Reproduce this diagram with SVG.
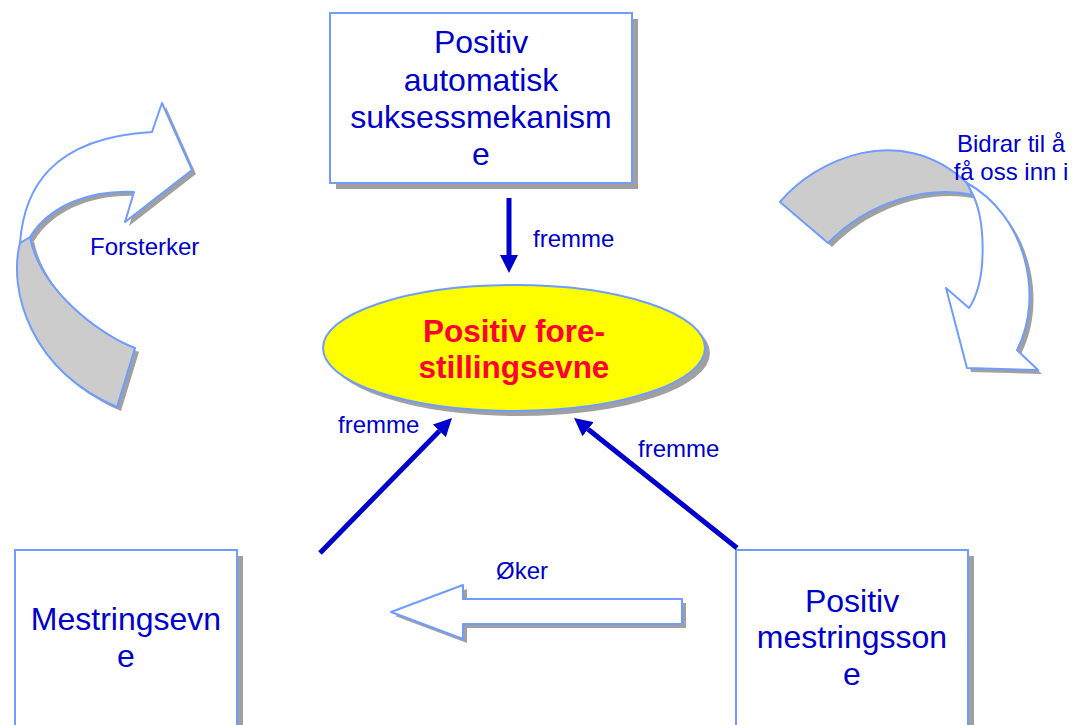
<svg xmlns="http://www.w3.org/2000/svg" width="1075" height="725" viewBox="0 0 1075 725">
<style>
.t{font-family:"Liberation Sans",Arial,sans-serif;fill:#0000CC;}
.box{fill:#FFFFFF;stroke:#6F9CFF;stroke-width:2;}
.sh{fill:#A0A0A0;stroke:none;}
.rib{fill:#CCCCCC;stroke:#6F9CFF;stroke-width:2;stroke-linejoin:round;}
.wrib{fill:#FFFFFF;stroke:#6F9CFF;stroke-width:2;stroke-linejoin:round;}
.con{stroke:#0000CC;stroke-width:5;fill:none;marker-end:url(#ah);}
</style>
<defs>
<marker id="ah" markerUnits="userSpaceOnUse" viewBox="0 0 18 18" refX="0" refY="9" markerWidth="18" markerHeight="18" orient="auto">
<path d="M0,0 L18,9 L0,18 Z" fill="#0000CC"/>
</marker>
</defs>
<rect width="1075" height="725" fill="#FFFFFF"/>

<g id="curve-left">
<g transform="translate(4,4)" class="sh">
<path d="M20,243 C8,290 30,370 117,407 L135,348 C100,335 40,290 30,237 Z"/>
<path d="M20,243 C24,190 50,138 152,132 L162,103 L192,170 L125,222 L134,192 C90,190 50,205 30,237 Z"/>
</g>
<path class="rib" d="M20,243 C8,290 30,370 117,407 L135,348 C100,335 40,290 30,237 Z"/>
<path class="wrib" d="M20,243 C24,190 50,138 152,132 L162,103 L192,170 L125,222 L134,192 C90,190 50,205 30,237 Z"/>
<text class="t" x="90" y="255" font-size="24">Forsterker</text>
</g>

<g id="curve-right">
<g transform="translate(4,4)" class="sh">
<path d="M780,202 C815,160 900,120 967,183 L973,195 C930,185 870,200 828,243 Z"/>
<path d="M967,183 C1025,215 1045,295 1017,350 L1038,370 L967,368 L946,288 L969,308 C988,280 985,220 973,195 Z"/>
</g>
<path class="rib" d="M780,202 C815,160 900,120 967,183 L973,195 C930,185 870,200 828,243 Z"/>
<path class="wrib" d="M967,183 C1025,215 1045,295 1017,350 L1038,370 L967,368 L946,288 L969,308 C988,280 985,220 973,195 Z"/>
<text class="t" font-size="24" text-anchor="middle"><tspan x="1011" y="152">Bidrar til å</tspan><tspan x="1011" y="180">få oss inn i</tspan></text>
</g>

<g id="node-top">
<rect class="sh" x="336" y="19" width="302" height="170"/>
<rect class="box" x="330" y="13" width="302" height="170"/>
<text class="t" font-size="32" text-anchor="middle"><tspan x="481" y="53">Positiv</tspan><tspan x="481" y="91">automatisk</tspan><tspan x="481" y="128">suksessmekanism</tspan><tspan x="481" y="165">e</tspan></text>
</g>

<g id="node-center">
<ellipse cx="519" cy="353" rx="191" ry="63" fill="#A0A0A0"/>
<ellipse cx="514" cy="348" rx="191" ry="63" fill="#FFFF00" stroke="#6F9CFF" stroke-width="2"/>
<text font-family="Liberation Sans,Arial,sans-serif" font-weight="bold" font-size="31.5" fill="#FF0033" text-anchor="middle"><tspan x="514" y="342">Positiv fore-</tspan><tspan x="514" y="378">stillingsevne</tspan></text>
</g>

<g id="node-bottom-left">
<rect class="sh" x="21" y="556" width="222" height="190"/>
<rect class="box" x="15" y="550" width="222" height="190"/>
<text class="t" font-size="32" text-anchor="middle"><tspan x="126" y="630">Mestringsevn</tspan><tspan x="126" y="667">e</tspan></text>
</g>

<g id="node-bottom-right">
<rect class="sh" x="742" y="556" width="232" height="190"/>
<rect class="box" x="736" y="550" width="232" height="190"/>
<text class="t" font-size="32" text-anchor="middle"><tspan x="852" y="612">Positiv</tspan><tspan x="852" y="648">mestringsson</tspan><tspan x="852" y="685">e</tspan></text>
</g>

<g id="connectors">
<line class="con" x1="509" y1="198" x2="509" y2="255"/>
<line class="con" x1="320" y1="553" x2="439.4" y2="430.9"/>
<line class="con" x1="737" y1="548" x2="588.1" y2="429.2"/>
<polygon class="sh" points="395,616 467,589 467,603 686,603 686,628 467,628 467,643"/>
<polygon class="wrib" points="391,612 463,585 463,599 682,599 682,624 463,624 463,639"/>
<text class="t" x="533" y="247" font-size="24">fremme</text>
<text class="t" x="338" y="433" font-size="24">fremme</text>
<text class="t" x="638" y="457" font-size="24">fremme</text>
<text class="t" x="496" y="579" font-size="24">Øker</text>
</g>
</svg>
